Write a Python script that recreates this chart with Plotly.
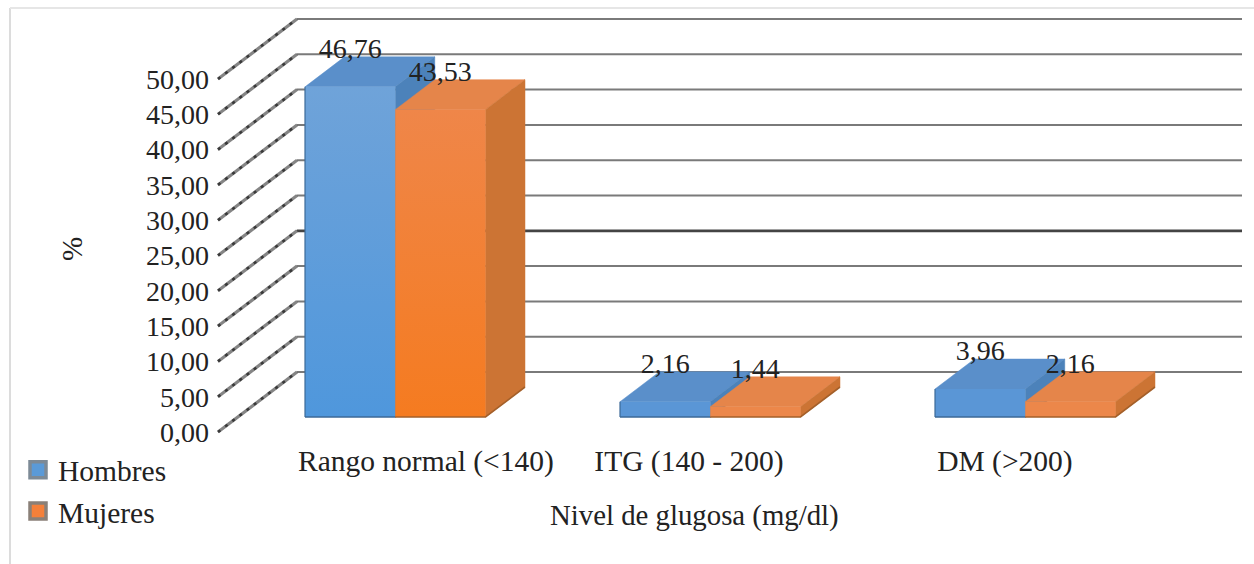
import plotly.graph_objects as go

# ---- data ----
categories = ["Rango normal (<140)", "ITG (140 - 200)", "DM (>200)"]
hombres = [46.76, 2.16, 3.96]
mujeres = [43.53, 1.44, 2.16]
hombres_labels = ["46,76", "2,16", "3,96"]
mujeres_labels = ["43,53", "1,44", "2,16"]
y_ticks = [0, 5, 10, 15, 20, 25, 30, 35, 40, 45, 50]

# ---- chart geometry (oblique 3D projection) ----
W, H = 1254, 564
PX_X0, PX_Y0 = 218, 432          # pixel of the front-left floor corner
PX_PER_CAT, PX_PER_VAL = 315.0, 7.06
DEPTH_X, DEPTH_Y = 79 / PX_PER_CAT, 60 / PX_PER_VAL   # full depth in axis units
BAR_W = 0.2865
D_FRONT, D_BACK = 0.25, 0.75     # depth span occupied by bars
LABEL_OFFSET = 0.8
XTICK_POS = [0.16, 0.995, 1.998]
FONT = "Liberation Serif"
TXT = "#222222"

x_range = [-0.5 - PX_X0 / PX_PER_CAT, -0.5 + (W - PX_X0) / PX_PER_CAT]
y_range = [-(H - PX_Y0) / PX_PER_VAL, PX_Y0 / PX_PER_VAL]


def proj(x, v, d):
    return x + d * DEPTH_X, v + d * DEPTH_Y


fig = go.Figure()

# back wall grid + side wall diagonals
for v in y_ticks:
    x0, y0 = proj(-0.5, v, 0)
    x1, y1 = proj(-0.5, v, 1)
    x2, y2 = proj(2.5, v, 1)
    dark = v == 20
    fig.add_trace(go.Scatter(x=[x1, x2], y=[y1, y2], mode="lines", showlegend=False, hoverinfo="skip",
                             line=dict(color="#444444" if dark else "#7a7a7a", width=2.8 if dark else 2)))
    fig.add_trace(go.Scatter(x=[x0, x1], y=[y0, y1], mode="lines", showlegend=False, hoverinfo="skip",
                             line=dict(color="#858585", width=3.2)))
    fig.add_trace(go.Scatter(x=[x0, x1], y=[y0, y1], mode="lines", showlegend=False, hoverinfo="skip",
                             line=dict(color="#3a3a3a", width=2.6, dash="3px,6px")))

series = [
    dict(name="Hombres", vals=hombres, labels=hombres_labels, off=-BAR_W,
         bar="#5f9cd9", grad=["#4f97dc", "#6fa3d9"], small="#5a96d6", top="#5a8fca", side="#4c82ba",
         edge="#3c6a98", legend="#5a9ad8", legend_edge="#7d8a96"),
    dict(name="Mujeres", vals=mujeres, labels=mujeres_labels, off=0.0,
         bar="#f2803a", grad=["#f57b20", "#ef8649"], small="#ec874a", top="#e5854a", side="#cc7434",
         edge="#a4602a", legend="#f4803a", legend_edge="#8a8078"),
]

# solid bars (bar layer, underneath)
for s in series:
    fig.add_trace(go.Bar(
        x=[i + D_FRONT * DEPTH_X + s["off"] + BAR_W / 2 for i in range(len(categories))],
        y=s["vals"], base=[D_FRONT * DEPTH_Y] * len(categories), width=BAR_W,
        marker=dict(color=s["bar"], line=dict(width=0)), showlegend=False, name=s["name"],
        hovertemplate="%{y:.2f}<extra>" + s["name"] + "</extra>"))


def poly(pts, **kw):
    xs = [p[0] for p in pts] + [pts[0][0]]
    ys = [p[1] for p in pts] + [pts[0][1]]
    fig.add_trace(go.Scatter(x=xs, y=ys, mode="lines", fill="toself", showlegend=False,
                             hoverinfo="skip", **kw))


# 3D faces, painter's order
for i in range(len(categories)):
    for s in series:
        v = s["vals"][i]
        xl = i + s["off"]
        xr = xl + BAR_W
        poly([proj(xl, v, D_FRONT), proj(xr, v, D_FRONT), proj(xr, v, D_BACK), proj(xl, v, D_BACK)],
             fillcolor=s["top"], line=dict(color=s["top"], width=0.5))
        poly([proj(xr, 0, D_FRONT), proj(xr, 0, D_BACK), proj(xr, v, D_BACK), proj(xr, v, D_FRONT)],
             fillcolor=s["side"], line=dict(color=s["side"], width=0.5))
        front = [proj(xl, 0, D_FRONT), proj(xr, 0, D_FRONT), proj(xr, v, D_FRONT), proj(xl, v, D_FRONT)]
        if v > 10:
            poly(front, fillgradient=dict(type="vertical", colorscale=[[0, s["grad"][0]], [1, s["grad"][1]]]),
                 line=dict(color="rgba(0,0,0,0)", width=0))
        else:
            poly(front, fillcolor=s["small"], line=dict(color="rgba(0,0,0,0)", width=0))
        bx0, by0 = proj(xl, 0, D_FRONT)
        bx1, by1 = proj(xr, 0, D_FRONT)
        bx2, by2 = proj(xr, 0, D_BACK)
        fig.add_trace(go.Scatter(x=[bx0, bx1, bx2], y=[by0, by1, by2], mode="lines", showlegend=False,
                                 hoverinfo="skip", line=dict(color=s["edge"], width=1.6)))
        if s["off"] < 0:
            tx, ty = proj(xl, v, D_FRONT)
            fig.add_trace(go.Scatter(x=[bx0, tx], y=[by0, ty], mode="lines", showlegend=False,
                                     hoverinfo="skip", line=dict(color=s["edge"], width=1.2)))

# data labels
for s in series:
    xs, ys = [], []
    for i, v in enumerate(s["vals"]):
        x, y = proj(i + s["off"] + BAR_W / 2, v + LABEL_OFFSET, D_BACK)
        xs.append(x - D_BACK * DEPTH_X + D_FRONT * DEPTH_X)
        ys.append(y)
    fig.add_trace(go.Scatter(x=xs, y=ys, mode="text", text=s["labels"], textposition="middle center",
                             textfont=dict(family=FONT, size=28, color=TXT),
                             showlegend=False, hoverinfo="skip"))

# legend proxies
for s in series:
    fig.add_trace(go.Scatter(x=[None], y=[None], mode="markers", name=s["name"],
                             marker=dict(symbol="square", size=16, color=s["legend"],
                                         line=dict(color=s["legend_edge"], width=3.5))))

fig.update_layout(
    width=W, height=H, margin=dict(l=0, r=0, t=0, b=0), autosize=False,
    plot_bgcolor="white", paper_bgcolor="white", separators=",.", barmode="overlay",
    font=dict(family=FONT, size=29, color=TXT),
    xaxis=dict(range=x_range, fixedrange=True, showgrid=False, zeroline=False, showline=False,
               anchor="free", position=(H - 440) / H, side="bottom", tickmode="array",
               tickvals=XTICK_POS, ticktext=categories, ticks="", automargin=False,
               tickfont=dict(family=FONT, size=29.5, color=TXT)),
    yaxis=dict(range=y_range, fixedrange=True, showgrid=False, zeroline=False, showline=False,
               anchor="free", position=PX_X0 / W, tickmode="array", tickvals=y_ticks,
               tickformat=".2f", ticks="", ticklabelstandoff=9, automargin=False,
               tickfont=dict(family=FONT, size=28, color=TXT)),
    legend=dict(x=18 / W, y=1 - 444 / H, xanchor="left", yanchor="top", bgcolor="rgba(0,0,0,0)",
                font=dict(family=FONT, size=29.5, color=TXT), itemclick=False,
                itemdoubleclick=False),
    annotations=[
        dict(text="Nivel de glugosa (mg/dl)", xref="paper", yref="paper", x=694 / W, y=1 - 515 / H,
             showarrow=False, xanchor="center", yanchor="middle", font=dict(family=FONT, size=28.8, color=TXT)),
        dict(text="%", xref="paper", yref="paper", x=72 / W, y=1 - 249 / H, textangle=-90,
             showarrow=False, xanchor="center", yanchor="middle", font=dict(family=FONT, size=29, color=TXT)),
    ],
    shapes=[
        dict(type="line", xref="paper", yref="paper", x0=10 / W, x1=10 / W, y0=0, y1=1 - 8 / H,
             line=dict(color="#dcdcdc", width=2), layer="below"),
        dict(type="line", xref="paper", yref="paper", x0=10 / W, x1=1, y0=1 - 8 / H, y1=1 - 8 / H,
             line=dict(color="#e6e6e6", width=2), layer="below"),
    ],
)

fig.write_html("out.html", config={"displayModeBar": False},
               post_script="document.body.style.margin='0';document.body.style.overflow='hidden';")
